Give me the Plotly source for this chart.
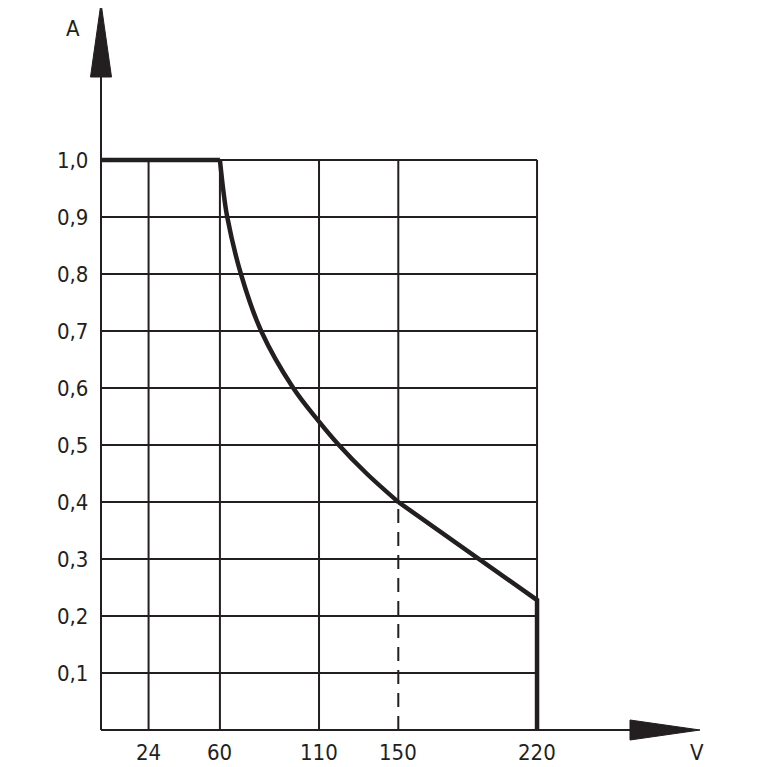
import plotly.graph_objects as go

# ---- data ----
x_ticks = [24, 60, 110, 150, 220]
x_labels = ["24", "60", "110", "150", "220"]
y_ticks = [0.1, 0.2, 0.3, 0.4, 0.5, 0.6, 0.7, 0.8, 0.9, 1.0]
y_labels = ["0,1", "0,2", "0,3", "0,4", "0,5", "0,6", "0,7", "0,8", "0,9", "1,0"]

flat_v = [0, 60]
flat_a = [1.0, 1.0]
curve_v = [60, 61.7, 63.7, 70.6, 80.8, 97.0, 110.0, 120.0, 134.0, 150]
curve_a = [1.0, 0.947, 0.90, 0.80, 0.70, 0.60, 0.541, 0.50, 0.45, 0.40]
tail_v = [150, 220, 220]
tail_a = [0.40, 0.228, 0.0]

dash_v = [150, 150]
dash_a = [0.0, 0.40]

x_max = 220
y_max = 1.0

# ---- layout geometry (pixels) ----
BODY = 8          # default page margin of the html body
W = H = 767 - BODY
px_per_v = 1.982
px_per_a = 570.0
x0_px = 101 - BODY
y0_px = 730 - BODY
xr = [-x0_px / px_per_v, (W - x0_px) / px_per_v]
yr = [-(H - y0_px) / px_per_a, y0_px / px_per_a]

def dv(px):
    return px / px_per_v

def da(px):
    return px / px_per_a

INK = "#231f20"
FONT = "DejaVu Sans Condensed, Liberation Sans Narrow, sans-serif"
FS = 22

fig = go.Figure()

def line(xs, ys, width=2, dash=None, shape="linear"):
    fig.add_trace(go.Scatter(x=xs, y=ys, mode="lines",
                             line=dict(color=INK, width=width, dash=dash, shape=shape),
                             hoverinfo="skip", showlegend=False))

# grid: horizontal lines
for yt in y_ticks:
    line([0, x_max], [yt, yt])
# grid: vertical lines
for xt in x_ticks:
    y_start = 0.40 if xt == 150 else 0.0
    line([xt, xt], [y_start, y_max])

# dashed line at 150
line(dash_v, dash_a, dash="14px,9px")

# axes lines
y_arrow_base = da(730 - 77)
y_arrow_tip = da(730 - 3)
x_arrow_base = dv(630 - 101)
x_arrow_tip = dv(700 - 101)
line([0, 0], [0, y_arrow_base])
line([0, x_arrow_base], [0, 0])

# arrowheads
hw = dv(10.5)
fig.add_trace(go.Scatter(x=[-hw, hw, 0, -hw], y=[y_arrow_base, y_arrow_base, y_arrow_tip, y_arrow_base],
                         mode="lines", fill="toself", fillcolor=INK, line=dict(color=INK, width=1),
                         hoverinfo="skip", showlegend=False))
hh = da(10)
fig.add_trace(go.Scatter(x=[x_arrow_base, x_arrow_base, x_arrow_tip, x_arrow_base], y=[-hh, hh, 0, -hh],
                         mode="lines", fill="toself", fillcolor=INK, line=dict(color=INK, width=1),
                         hoverinfo="skip", showlegend=False))

# main characteristic
line(flat_v, flat_a, width=4.5)
line(curve_v, curve_a, width=4.5, shape="spline")
line(tail_v, tail_a, width=4.5)

# tick labels
ann = []
for yt, lab in zip(y_ticks, y_labels):
    ann.append(dict(x=-dv(11), y=yt, text=lab, showarrow=False, xanchor="right", yanchor="middle",
                    font=dict(family=FONT, size=FS, color=INK)))
for xt, lab in zip(x_ticks, x_labels):
    ann.append(dict(x=xt, y=-da(22), text=lab, showarrow=False, xanchor="center", yanchor="middle",
                    font=dict(family=FONT, size=FS, color=INK)))
ann.append(dict(x=-dv(28), y=da(730 - 28), text="A", showarrow=False, xanchor="center", yanchor="middle",
                font=dict(family=FONT, size=FS, color=INK)))
ann.append(dict(x=dv(697 - 101), y=-da(22), text="V", showarrow=False, xanchor="center", yanchor="middle",
                font=dict(family=FONT, size=FS, color=INK)))

fig.update_layout(
    width=W, height=H,
    margin=dict(l=0, r=0, t=0, b=0),
    paper_bgcolor="white", plot_bgcolor="white",
    xaxis=dict(range=xr, visible=False, fixedrange=True),
    yaxis=dict(range=yr, visible=False, fixedrange=True),
    annotations=ann,
    showlegend=False,
)

fig.write_html("out.html")
